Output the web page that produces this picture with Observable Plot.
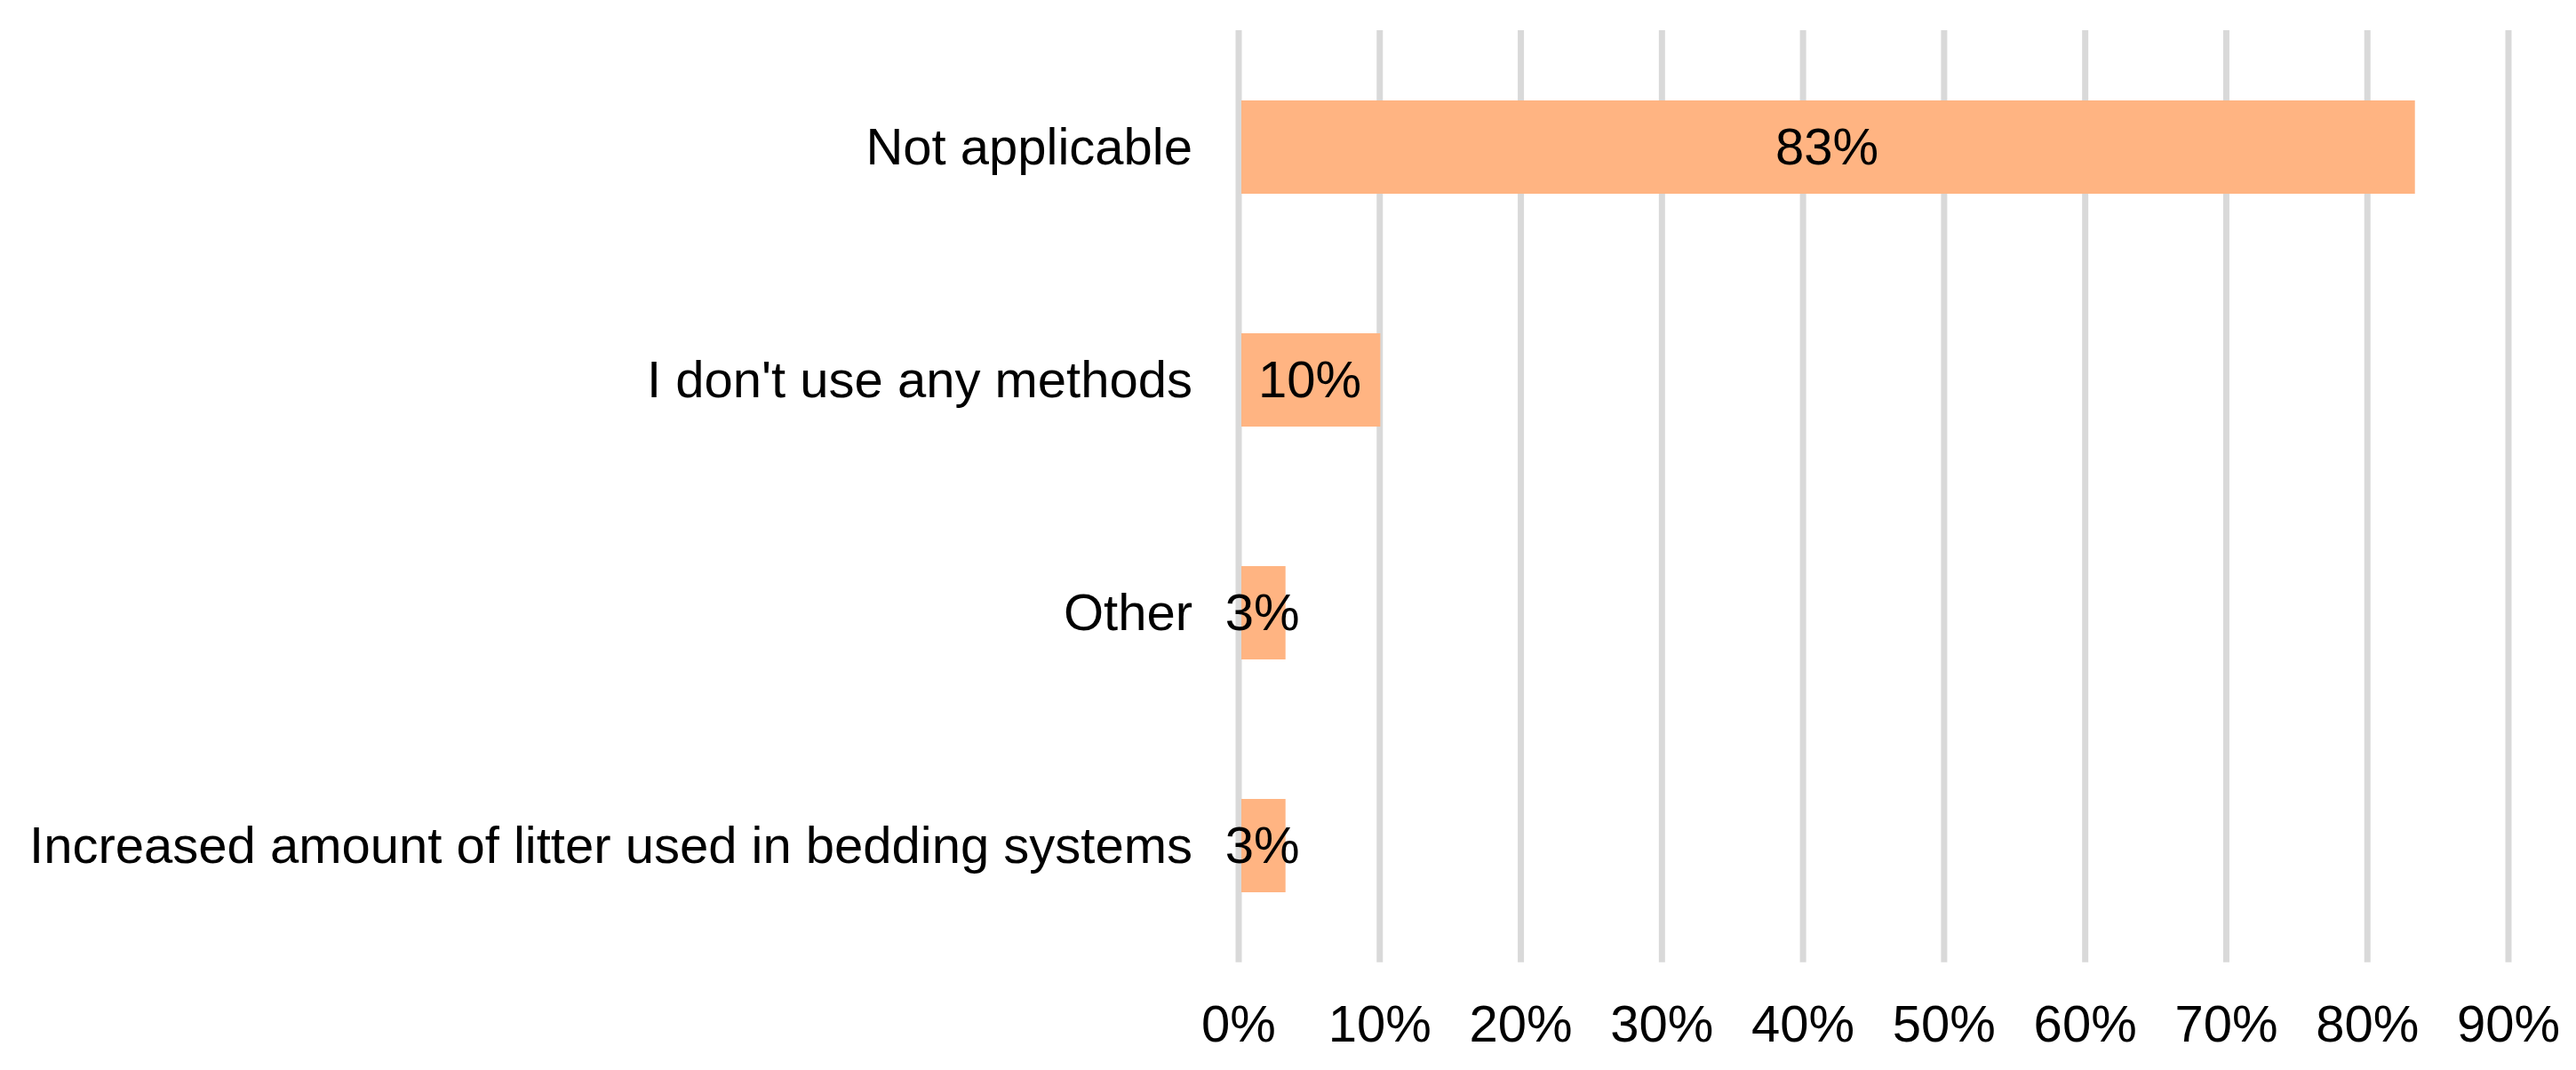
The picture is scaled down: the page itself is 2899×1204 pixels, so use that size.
<!DOCTYPE html>
<html>
<head>
<meta charset="utf-8">
<script src="https://cdn.jsdelivr.net/npm/d3@7"></script>
<script src="https://cdn.jsdelivr.net/npm/@observablehq/plot@0.6"></script>
<style>
  html, body { margin: 0; padding: 0; background: #ffffff; }
  #chart { width: 2899px; height: 1204px; }
</style>
</head>
<body>
<div id="chart"></div>
<script>
const categories = [
  "Not applicable",
  "I don't use any methods",
  "Other",
  "Increased amount of litter used in bedding systems"
];
const values = [83.4, 10.07, 3.35, 3.35];
const valueLabels = ["83%", "10%", "3%", "3%"];
const xTicks = [0, 10, 20, 30, 40, 50, 60, 70, 80, 90];

const data = categories.map((c, i) => ({category: c, value: values[i], label: valueLabels[i]}));

const chart = Plot.plot({
  width: 2899,
  height: 1204,
  marginLeft: 1393.5,
  marginRight: 76.5,
  marginTop: 34,
  marginBottom: 121.3,
  style: {
    fontFamily: "'Liberation Sans', Arial, sans-serif",
    fontSize: "58px",
    color: "#000000",
    background: "#ffffff",
    overflow: "visible"
  },
  x: {
    domain: [0, 90],
    ticks: xTicks,
    tickFormat: d => d + "%",
    tickSize: 0,
    tickPadding: 48,
    label: null
  },
  y: {
    domain: categories,
    paddingInner: 0.6,
    paddingOuter: 0.3,
    tickSize: 0,
    tickPadding: 52,
    label: null
  },
  marks: [
    Plot.ruleX(xTicks, {stroke: "#d9d9d9", strokeWidth: 7}),
    Plot.barX(data, {x1: 0, x2: "value", y: "category", fill: "#ffb482", insetLeft: 3.5}),
    Plot.text(data, {
      x: d => d.value / 2,
      y: "category",
      text: "label",
      fill: "#000000",
      fontSize: 58,
      textAnchor: "middle"
    })
  ]
});

document.getElementById("chart").appendChild(chart);
</script>
</body>
</html>
